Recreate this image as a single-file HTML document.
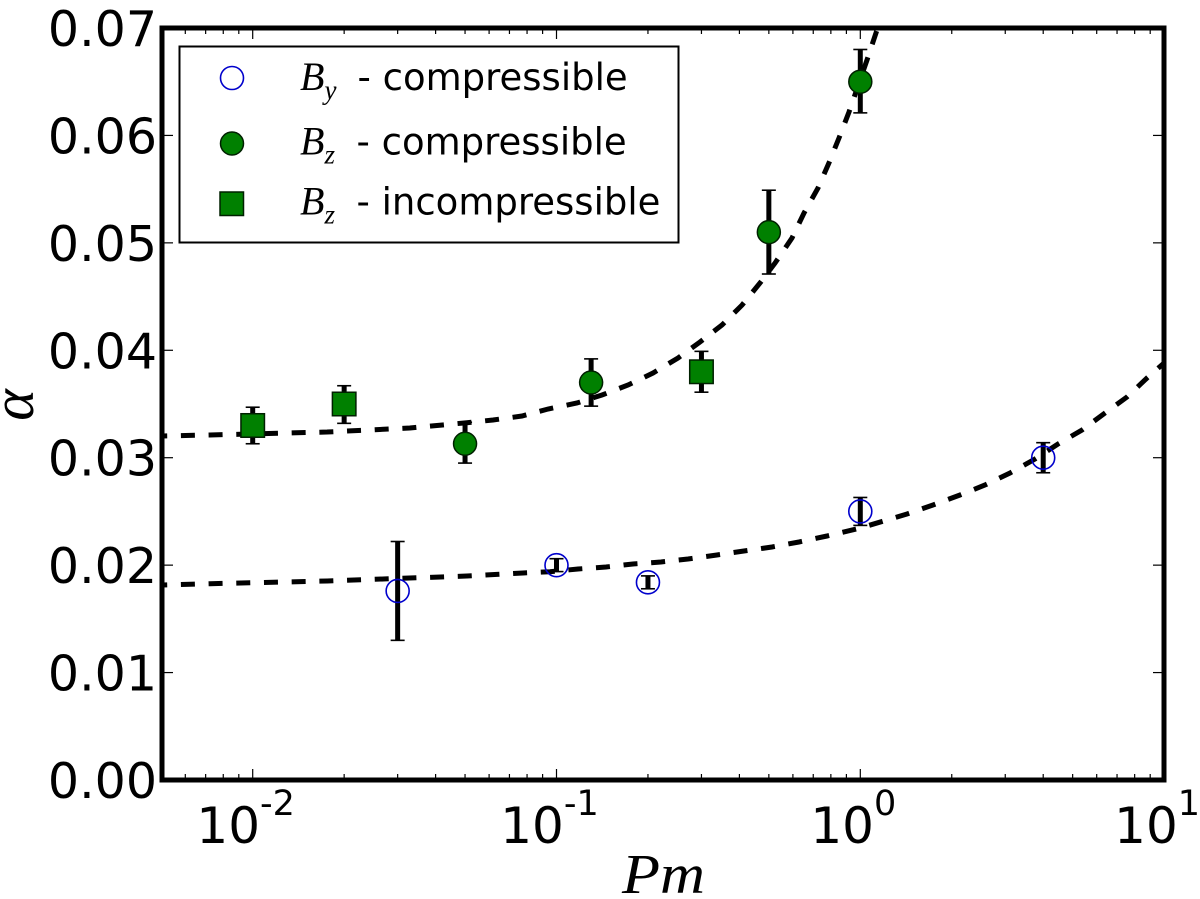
<!DOCTYPE html>
<html>
<head>
<meta charset="utf-8">
<title>Alpha versus Pm</title>
<style>
html,body{margin:0;padding:0;background:#fff;}
svg{display:block;}
text{fill:#000;}
.tick{font-family:"DejaVu Sans",sans-serif;font-size:49px;}
.xtick{font-family:"DejaVu Sans",sans-serif;font-size:50px;}
.leg{font-family:"DejaVu Sans",sans-serif;font-size:37px;}
.math{font-family:"Liberation Serif",serif;font-style:italic;}
</style>
</head>
<body>
<svg id="chart" xmlns="http://www.w3.org/2000/svg" width="1200" height="899" viewBox="0 0 1200 899">
  <defs><clipPath id="plot-clip"><rect x="162" y="28" width="1002" height="752"/></clipPath></defs>
  <rect x="162" y="28" width="1002" height="752" fill="#fff"/>
  <g id="ticks"></g>
  <g id="curves" clip-path="url(#plot-clip)"></g>
  <g id="errors"></g>
  <g id="markers"></g>
  <rect x="162" y="28" width="1002" height="752" fill="none" stroke="#000" stroke-width="5"/>
  <g id="labels"></g>
  <text class="math" x="622" y="893" font-size="56" textLength="83" lengthAdjust="spacingAndGlyphs">Pm</text>
  <text class="math" x="0" y="0" font-size="60" text-anchor="middle" transform="translate(33 405) rotate(-90)">α</text>
  <g>
    <rect x="179.5" y="46.5" width="499" height="196" fill="#fff" stroke="#000" stroke-width="2"/>
    <circle cx="232" cy="78" r="11.5" fill="#fff" stroke="#0000cc" stroke-width="1.6"/>
    <text class="leg" x="357.500" y="90">- compressible</text>
    <text class="math" x="300" y="90" font-size="40">B<tspan font-size="27" dx="0" dy="9">y</tspan></text>
    <circle cx="232" cy="143.500" r="11.500" fill="#008000" stroke="#002000" stroke-width="1.500"/>
    <text class="leg" x="356.500" y="154.500">- compressible</text>
    <text class="math" x="300" y="154.500" font-size="40">B<tspan font-size="27" dx="0" dy="9">z</tspan></text>
    <rect x="220" y="192" width="23.500" height="23.500" fill="#008000" stroke="#002000" stroke-width="1.500"/>
    <text class="leg" x="356.500" y="214.500">- incompressible</text>
    <text class="math" x="300" y="214.500" font-size="40">B<tspan font-size="27" dx="0" dy="9">z</tspan></text>
  </g>
</svg>
<script>
// Data
var byPm = [0.03, 0.1, 0.2, 1, 4];
var byAlpha = [0.0176, 0.02, 0.0184, 0.025, 0.03];
var byErrLow = [0.0046, 0.0006, 0.0006, 0.0013, 0.0014];
var byErrHigh = [0.0046, 0.0006, 0.0006, 0.0013, 0.0014];

var bzPm = [0.05, 0.13, 0.5, 1];
var bzAlpha = [0.0313, 0.037, 0.051, 0.065];
var bzErrLow = [0.0018, 0.0022, 0.0039, 0.0029];
var bzErrHigh = [0.0020, 0.0022, 0.0039, 0.0030];

var incPm = [0.01, 0.02, 0.3];
var incAlpha = [0.033, 0.035, 0.038];
var incErrLow = [0.0017, 0.0018, 0.0019];
var incErrHigh = [0.0017, 0.0017, 0.0019];

var upperFitPm = [0.005, 0.00723, 0.01757, 0.0329, 0.0507, 0.0618, 0.077, 0.0938, 0.1168, 0.1412, 0.172, 0.2078, 0.2512, 0.2967, 0.3506, 0.4079, 0.4675, 0.5238, 0.5957, 0.6526, 0.7257, 0.7885, 0.8508, 0.918, 1.052, 1.188];
var upperFitAlpha = [0.03202, 0.03211, 0.03239, 0.03277, 0.03326, 0.03351, 0.03388, 0.03453, 0.03509, 0.03584, 0.03677, 0.03789, 0.03928, 0.04077, 0.04235, 0.04421, 0.04626, 0.04812, 0.05045, 0.05278, 0.05511, 0.05743, 0.05976, 0.06218, 0.06702, 0.0715];

var lowerFitPm = [0.005, 0.00723, 0.01757, 0.02685, 0.0507, 0.0776, 0.0952, 0.1177, 0.1455, 0.1785, 0.2207, 0.2709, 0.3373, 0.414, 0.512, 0.6285, 0.777, 1, 1.425, 1.735, 2.129, 2.573, 3.11, 3.758, 4.474, 5.367, 6.391, 7.549, 8.784, 10];
var lowerFitAlpha = [0.01815, 0.01827, 0.01852, 0.01871, 0.01899, 0.01927, 0.01939, 0.01964, 0.01983, 0.02011, 0.02029, 0.02057, 0.02094, 0.02132, 0.02169, 0.02215, 0.02271, 0.02346, 0.02476, 0.0256, 0.02653, 0.02746, 0.02858, 0.02988, 0.03128, 0.03258, 0.03416, 0.03565, 0.03742, 0.03882];

var yTickValues = [0, 0.01, 0.02, 0.03, 0.04, 0.05, 0.06, 0.07];
var yTickLabels = ['0.00', '0.01', '0.02', '0.03', '0.04', '0.05', '0.06', '0.07'];
var xTickExponents = [-2, -1, 0, 1];
var xTickLabels = ['-2', '-1', '0', '1'];
var minorMultiples = [2, 3, 4, 5, 6, 7, 8, 9];

// Axis functions
function xScale(pm) { return 860.3 + (Math.log(pm) / Math.LN10) * 303.8; }
function yScale(a) { return 780 - a * 10742.9; }

var NS = 'http://www.w3.org/2000/svg';
function mk(parent, tag, props) {
  var el = document.createElementNS(NS, tag);
  for (var k in props) { el.setAttribute(k, props[k]); }
  parent.appendChild(el);
  return el;
}

var gTicks = document.getElementById('ticks');
var gCurves = document.getElementById('curves');
var gErrors = document.getElementById('errors');
var gMarkers = document.getElementById('markers');
var gLabels = document.getElementById('labels');
var left = 162, right = 1164, top_ = 28, bottom = 780;
var el;

// Y ticks and labels
yTickValues.forEach(function (v, i) {
  var y = yScale(v);
  if (i > 0 && i < yTickValues.length - 1) {
    el = mk(gTicks, 'line', { x1: left, x2: left + 11, y1: y, y2: y, stroke: '#000', 'stroke-width': 1.2 });
    
    
    el = mk(gTicks, 'line', { x1: right - 11, x2: right, y1: y, y2: y, stroke: '#000', 'stroke-width': 1.2 });
    
    
  }
  el = mk(gLabels, 'text', { x: 157, y: y + 18, 'text-anchor': 'end', 'class': 'tick' });
  el.textContent = yTickLabels[i];
  
  
});

// X ticks and labels
xTickExponents.forEach(function (e, i) {
  var base = Math.pow(10, e);
  var x = xScale(base);
  if (e < 1) {
    el = mk(gTicks, 'line', { x1: x, x2: x, y1: bottom, y2: bottom - 11, stroke: '#000', 'stroke-width': 1.2 });
    
    
    el = mk(gTicks, 'line', { x1: x, x2: x, y1: top_, y2: top_ + 11, stroke: '#000', 'stroke-width': 1.2 });
    
    
  }
  el = mk(gLabels, 'text', { x: x - 7, y: 843, 'text-anchor': 'middle', 'class': 'xtick' });
  
  
  el.appendChild(document.createTextNode('10'));
  var sup = mk(el, 'tspan', { dy: -28, 'font-size': 35 });
  sup.textContent = xTickLabels[i];
  
  
});

// Minor x ticks
[-3, -2, -1, 0].forEach(function (e) {
  minorMultiples.forEach(function (m) {
    var x = xScale(m * Math.pow(10, e));
    if (x <= left + 1 || x >= right - 1) { return; }
    el = mk(gTicks, 'line', { x1: x, x2: x, y1: bottom, y2: bottom - 6, stroke: '#000', 'stroke-width': 1.2 });
    
    
    el = mk(gTicks, 'line', { x1: x, x2: x, y1: top_, y2: top_ + 6, stroke: '#000', 'stroke-width': 1.2 });
    
    
  });
});

// Fit curves
function curvePath(xs, ys) {
  return xs.map(function (p, i) {
    return (i ? 'L' : 'M') + xScale(p).toFixed(1) + ' ' + yScale(ys[i]).toFixed(1);
  }).join(' ');
}
el = mk(gCurves, 'path', { d: curvePath(upperFitPm, upperFitAlpha), fill: 'none', stroke: '#000', 'stroke-width': 5, 'stroke-dasharray': '14 13.7', 'stroke-dashoffset': 8 });


el = mk(gCurves, 'path', { d: curvePath(lowerFitPm, lowerFitAlpha), fill: 'none', stroke: '#000', 'stroke-width': 5, 'stroke-dasharray': '14 13.7', 'stroke-dashoffset': 8 });



// Error bars
function drawErrors(xs, ys, lo, hi) {
  xs.forEach(function (p, i) {
    var x = xScale(p), yTop = yScale(ys[i] + hi[i]), yBot = yScale(ys[i] - lo[i]);
    var e = mk(gErrors, 'line', { x1: x, x2: x, y1: yTop, y2: yBot, stroke: '#000', 'stroke-width': 5 });
    
    
    e = mk(gErrors, 'line', { x1: x - 7, x2: x + 7, y1: yTop, y2: yTop, stroke: '#000', 'stroke-width': 1.6 });
    
    
    e = mk(gErrors, 'line', { x1: x - 7, x2: x + 7, y1: yBot, y2: yBot, stroke: '#000', 'stroke-width': 1.6 });
    
    
  });
}
drawErrors(byPm, byAlpha, byErrLow, byErrHigh);
drawErrors(bzPm, bzAlpha, bzErrLow, bzErrHigh);
drawErrors(incPm, incAlpha, incErrLow, incErrHigh);

// Markers
byPm.forEach(function (p, i) {
  var m = mk(gMarkers, 'circle', { cx: xScale(p), cy: yScale(byAlpha[i]), r: 11.5, fill: 'none', stroke: '#0000cc', 'stroke-width': 1.6 });
  
  
});
bzPm.forEach(function (p, i) {
  var m = mk(gMarkers, 'circle', { cx: xScale(p), cy: yScale(bzAlpha[i]), r: 11.5, fill: '#008000', stroke: '#002000', 'stroke-width': 1.5 });
  
  
});
incPm.forEach(function (p, i) {
  var m = mk(gMarkers, 'rect', { x: xScale(p) - 11.75, y: yScale(incAlpha[i]) - 11.75, width: 23.5, height: 23.5, fill: '#008000', stroke: '#002000', 'stroke-width': 1.5 });
  
  
});
</script>
</body>
</html>
